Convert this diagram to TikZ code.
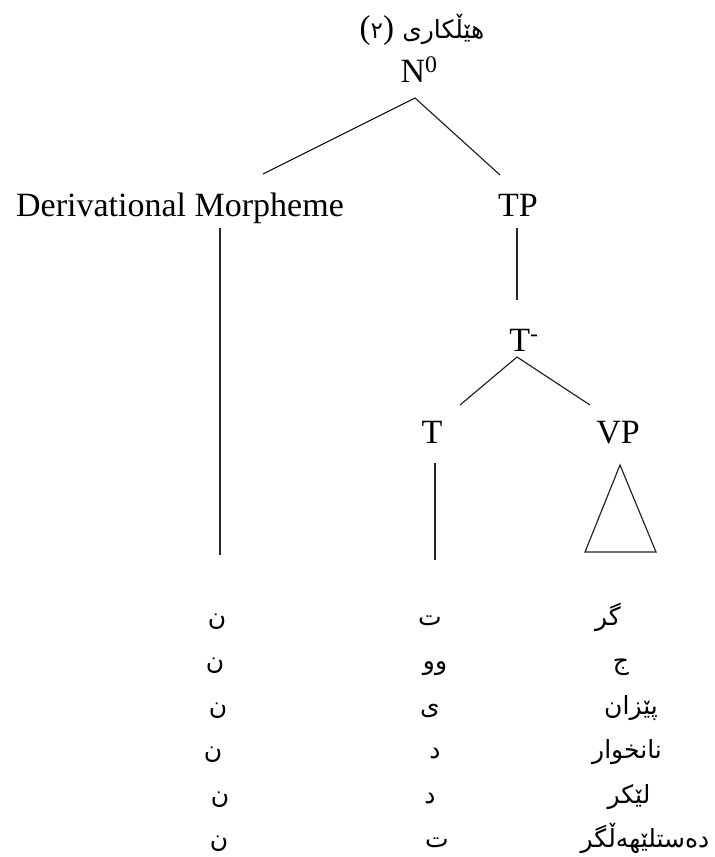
\documentclass[tikz,border=0pt]{standalone}
\usepackage{fontspec}
\setmainfont{Liberation Serif}
\newfontfamily\arabicfont[Script=Arabic]{DejaVu Sans}
\TeXXeTstate=1
\begin{document}
\begin{tikzpicture}[x=1pt,y=-1pt,
  lab/.style={font=\fontsize{34}{38}\selectfont, inner sep=0pt, anchor=base},
  ar/.style={font=\arabicfont\fontsize{25}{29}\selectfont, inner sep=0pt, anchor=base},
  edge/.style={line width=1.2pt, black!85}]
\useasboundingbox (0,0) rectangle (715,857);

% labels
\node[lab,font=\fontsize{33}{37}\selectfont] (title) at (422,38) {({\arabicfont\fontsize{23}{27}\selectfont ٢}) {\arabicfont\fontsize{25}{29}\selectfont\beginR هێڵکاری\endR}};
\node[lab] (n0) at (419,82) {N\textsuperscript{0}};
\node[lab] (dm) at (180,216) {Derivational Morpheme};
\node[lab] (tp) at (518,216) {TP};
\node[lab] (tbar) at (524,351) {T\textsuperscript{-}};
\node[lab] (t) at (432,443) {T};
\node[lab] (vp) at (618,443) {VP};

% connector end points
\coordinate (a1) at (415,98);
\coordinate (a1l) at (263,174);
\coordinate (a1r) at (500,175);
\coordinate (dmtop) at (220,228);
\coordinate (dmbot) at (220,555);
\coordinate (tptop) at (517,228);
\coordinate (tpbot) at (517,300);
\coordinate (a2) at (517,357);
\coordinate (a2l) at (460,405);
\coordinate (a2r) at (590,405);
\coordinate (ttop) at (435,463);
\coordinate (tbot) at (435,560);
\coordinate (vpa) at (620,465);
\coordinate (vpl) at (585,552);
\coordinate (vpr) at (656,552);

\draw[edge] (a1l) -- (a1) -- (a1r);
\draw[edge] (dmtop) -- (dmbot);
\draw[edge] (tptop) -- (tpbot);
\draw[edge] (a2l) -- (a2) -- (a2r);
\draw[edge] (ttop) -- (tbot);
\draw[edge] (vpa) -- (vpl) -- (vpr) -- cycle;

% rows
\node[ar] (r1a) at (217,625) {\beginR ن\endR};
\node[ar] (r1b) at (430,625) {\beginR ت\endR};
\node[ar] (r1c) at (608,625) {\beginR گر\endR};
\node[ar] (r2a) at (215,669) {\beginR ن\endR};
\node[ar] (r2b) at (435,669) {\beginR وو\endR};
\node[ar] (r2c) at (621,669) {\beginR ج\endR};
\node[ar] (r3a) at (218,714) {\beginR ن\endR};
\node[ar] (r3b) at (430,714) {\beginR ی\endR};
\node[ar] (r3c) at (631,714) {\beginR پێزان\endR};
\node[ar] (r4a) at (213,758) {\beginR ن\endR};
\node[ar] (r4b) at (435,758) {\beginR د\endR};
\node[ar] (r4c) at (627,758) {\beginR نانخوار\endR};
\node[ar] (r5a) at (220,803) {\beginR ن\endR};
\node[ar] (r5b) at (430,803) {\beginR د\endR};
\node[ar] (r5c) at (629,803) {\beginR لێکر\endR};
\node[ar] (r6a) at (219,847) {\beginR ن\endR};
\node[ar] (r6b) at (437,847) {\beginR ت\endR};
\node[ar] (r6c) at (645,847) {\beginR دەستلێهەڵگر\endR};
\end{tikzpicture}
\end{document}
